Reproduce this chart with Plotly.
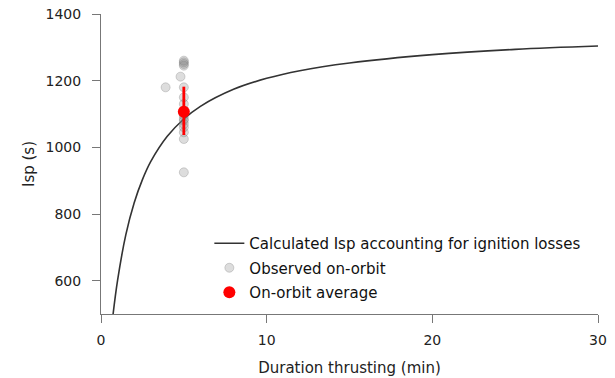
import plotly.graph_objects as go

# Calculated Isp curve
curve_t = [0.73, 1, 1.5, 2, 2.5, 3, 4, 5, 6, 8, 10, 12, 15, 20, 25, 30]
curve_isp = [500, 601, 738, 833, 903, 957, 1033, 1085, 1123, 1174, 1207, 1230, 1253, 1278, 1294, 1304]

# Observed on-orbit points
obs_t = [5, 5, 5, 5, 4.8, 3.9, 5, 5, 5, 5, 5, 5, 5, 5, 5, 5, 5, 5]
obs_isp = [1260, 1255, 1250, 1245, 1212, 1180, 1180, 1150, 1130, 1110, 1095, 1085, 1080, 1070, 1060, 1045, 1025, 925]

# On-orbit average
avg_t = [5]
avg_isp = [1107]
avg_err_plus = [75]
avg_err_minus = [70]

FONT = "DejaVu Sans"
AX = "#777777"

fig = go.Figure()
fig.add_trace(go.Scatter(
    x=curve_t, y=curve_isp, mode="lines", line=dict(color="#333333", width=1.6, shape="spline"),
    name="Calculated Isp accounting for ignition losses", legendgroup="a"))
fig.add_trace(go.Scatter(
    x=obs_t, y=obs_isp, mode="markers",
    marker=dict(color="rgba(120,120,120,0.25)", size=9, line=dict(width=1, color="rgba(120,120,120,0.3)")),
    name="Observed on-orbit", legendgroup="b"))
fig.add_trace(go.Scatter(
    x=avg_t, y=avg_isp, mode="markers",
    marker=dict(color="red", size=12, symbol="circle"),
    error_y=dict(type="data", array=avg_err_plus, arrayminus=avg_err_minus, color="red", thickness=2.8, width=0),
    name="On-orbit average", legendgroup="c"))

fig.update_layout(
    width=615, height=378,
    margin=dict(l=101, r=17, t=14, b=64, autoexpand=False),
    paper_bgcolor="white", plot_bgcolor="white",
    font=dict(family=FONT, size=14, color="#222222"),
    showlegend=True,
    legend=dict(x=0.218, y=0.29, xanchor="left", yanchor="top",
                bgcolor="rgba(0,0,0,0)", font=dict(family=FONT, size=15, color="#111111"),
                traceorder="grouped", tracegroupgap=2, itemwidth=30),
    xaxis=dict(range=[0, 30], tickvals=[0, 10, 20, 30], showgrid=False, zeroline=False,
               showline=True, linecolor=AX, linewidth=1, automargin=False,
               ticks="outside", ticklen=8, tickcolor=AX, ticklabelstandoff=5,
               title=dict(text="Duration thrusting (min)", font=dict(size=15), standoff=15),
               tickfont=dict(size=14)),
    yaxis=dict(range=[500, 1400], tickvals=[600, 800, 1000, 1200, 1400], showgrid=False, zeroline=False,
               showline=True, linecolor=AX, linewidth=1, automargin=False,
               ticks="outside", ticklen=8, tickcolor=AX, ticklabelstandoff=8,
               title=dict(text="Isp (s)", font=dict(size=15), standoff=7),
               tickfont=dict(size=14)),
)

fig.write_html("out.html", config={"displayModeBar": False},
               post_script="document.body.style.margin='0px';")
